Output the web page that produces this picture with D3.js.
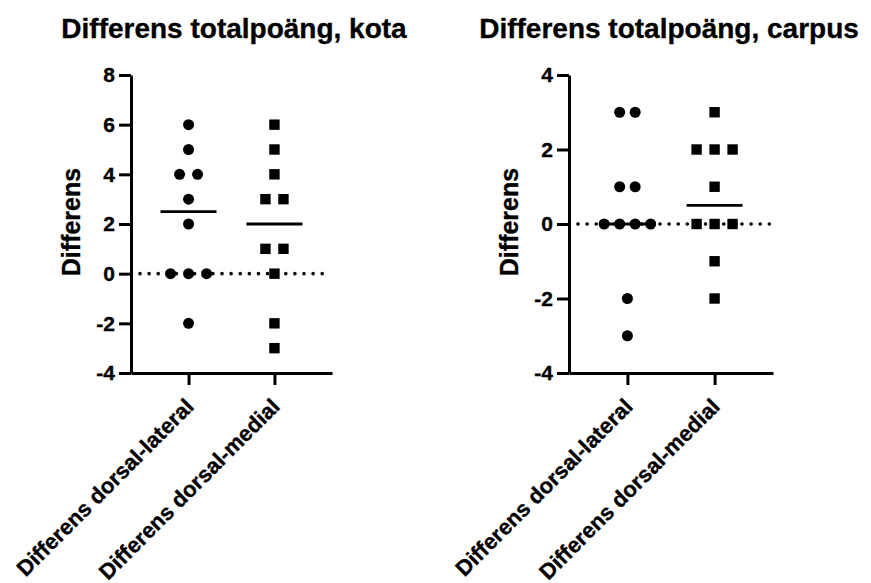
<!DOCTYPE html>
<html>
<head>
<meta charset="utf-8">
<script src="https://cdn.jsdelivr.net/npm/d3@7"></script>
<style>
  body { margin: 0; background: #fff; }
  svg { display: block; }
  text { font-family: "Liberation Sans", Arial, sans-serif; font-weight: bold; fill: #000; stroke: #000; stroke-width: 0.35px; }
</style>
</head>
<body>
<svg id="chart" width="871" height="583"></svg>
<script>
// ---- data ----
const categories = ["Differens dorsal-lateral", "Differens dorsal-medial"];
const titles = ["Differens totalpoäng, kota", "Differens totalpoäng, carpus"];
const yLabel = "Differens";

const kotaLateral = [6, 5, 4, 4, 3, 2, 0, 0, 0, -2];
const kotaMedial = [6, 5, 4, 3, 3, 1, 1, 0, -2, -3];
const carpusLateral = [3, 3, 1, 1, 0, 0, 0, 0, -2, -3];
const carpusMedial = [3, 2, 2, 2, 1, 0, 0, 0, -1, -2];

const kotaTicks = [-4, -2, 0, 2, 4, 6, 8];
const carpusTicks = [-4, -2, 0, 2, 4];
const kotaDomain = [-4, 8];
const carpusDomain = [-4, 4];

// ---- drawing ----
const svg = d3.select("#chart");
const FONT = "Liberation Sans, Arial, sans-serif";

function panel(opts) {
  const g = svg.append("g");
  const x = d3.scalePoint().domain(categories).range([opts.x0, opts.x1]).padding(0.67);
  const y = d3.scaleLinear().domain(opts.domain).range([373, 75]);

  // title
  g.append("text").attr("x", opts.titleX).attr("y", 38)
    .attr("text-anchor", "middle").style("font-size", "28px").text(opts.title);

  // y label
  g.append("text")
    .attr("transform", `translate(${opts.x0 - 51},${(y.range()[0] + y.range()[1]) / 2 - 2}) rotate(-90)`)
    .attr("text-anchor", "middle").style("font-size", "25px").text(yLabel);

  // zero dotted line
  g.append("line")
    .attr("x1", opts.x0 + 9).attr("x2", opts.x1 - 3)
    .attr("y1", y(0)).attr("y2", y(0))
    .attr("stroke", "#000").attr("stroke-width", 3.6)
    .attr("stroke-linecap", "round").attr("stroke-dasharray", "0.01,9.1");

  // axes
  const ya = g.append("g").attr("transform", `translate(${opts.x0},0)`)
    .call(d3.axisLeft(y).tickValues(opts.ticks).tickSize(12).tickSizeOuter(0).tickPadding(4).tickFormat(d => String(d)));
  ya.attr("font-size", 21).attr("font-family", FONT);
  ya.selectAll("text").style("font-size", "21px").style("font-weight", "bold");
  ya.selectAll("line,path").attr("stroke", "#000").attr("stroke-width", 3);

  const xa = g.append("g").attr("transform", `translate(0,373)`)
    .call(d3.axisBottom(x).tickSize(12).tickSizeOuter(0).tickPadding(6));
  xa.attr("font-size", 22).attr("font-family", FONT);
  xa.selectAll("line,path").attr("stroke", "#000").attr("stroke-width", 3);
  xa.selectAll("text")
    .style("font-size", "22px").style("font-weight", "bold")
    .attr("text-anchor", "end")
    .attr("transform", "translate(-5,24) rotate(-45)")
    .attr("dy", "0.71em").attr("y", 0);

  // points
  opts.series.forEach((vals, si) => {
    const cx = x(categories[si]);
    const spacing = opts.spacing[si];
    const groups = d3.group(vals, v => v);
    const pts = [];
    groups.forEach((arr, v) => {
      arr.forEach((_, i) => pts.push({ v, dx: (i - (arr.length - 1) / 2) * spacing }));
    });
    if (si === 0) {
      g.selectAll(null).data(pts).join("circle")
        .attr("cx", d => cx + d.dx).attr("cy", d => y(d.v)).attr("r", 5.5).attr("fill", "#000");
    } else {
      g.selectAll(null).data(pts).join("rect")
        .attr("x", d => cx + d.dx - 5.2).attr("y", d => y(d.v) - 5.2)
        .attr("width", 10.4).attr("height", 10.4).attr("fill", "#000");
    }
    const med = d3.median(vals);
    g.append("line")
      .attr("x1", cx - 28).attr("x2", cx + 28)
      .attr("y1", y(med)).attr("y2", y(med))
      .attr("stroke", "#000").attr("stroke-width", 2.8);
  });
}

panel({ x0: 131, x1: 332, domain: kotaDomain, ticks: kotaTicks, title: titles[0], titleX: 234,
        series: [kotaLateral, kotaMedial], spacing: [18, 18] });
panel({ x0: 569, x1: 773, domain: carpusDomain, ticks: carpusTicks, title: titles[1], titleX: 669,
        series: [carpusLateral, carpusMedial], spacing: [15.5, 18] });
</script>
</body>
</html>
